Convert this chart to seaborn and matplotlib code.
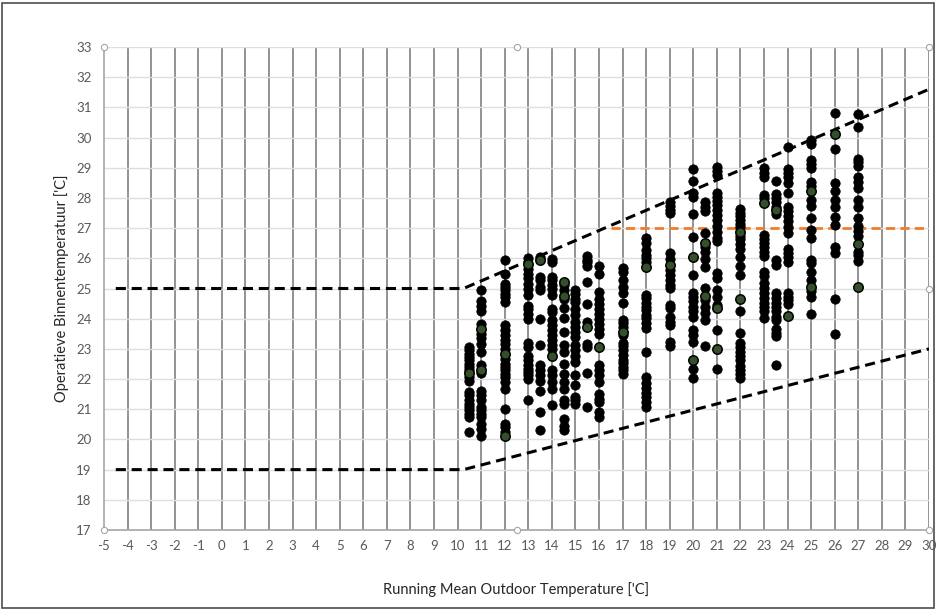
import matplotlib
matplotlib.use("Agg")
import matplotlib.pyplot as plt
import numpy as np
import pandas as pd
import seaborn as sns
from matplotlib.patches import Rectangle

# Indoor operative temperature readings, grouped by running mean outdoor temperature
t10_5 = [23.06, 22.95, 22.84, 22.73, 22.62, 22.51, 22.40, 22.29, 22.07, 21.93, 21.57, 21.46,
         21.29, 21.18, 21.07, 20.96, 20.85, 20.74, 20.24]
t11 = [24.94, 24.6, 24.42, 24.27, 23.83, 23.5, 23.36, 23.17, 22.89, 22.45, 22.21, 21.62, 21.48,
       21.29, 21.07, 20.96, 20.85, 20.74, 20.52, 20.36, 20.13]
t12 = [25.93, 25.49, 25.16, 25.05, 24.94, 24.83, 24.72, 24.55, 23.78, 23.61, 23.45, 23.31, 23.17,
       23.0, 22.67, 22.51, 22.4, 22.29, 22.18, 22.07, 21.9, 21.66, 21.02, 20.52, 20.41, 20.25]
t13 = [26.01, 25.65, 25.49, 25.34, 25.16, 24.99, 24.79, 24.42, 24.31, 24.16, 24.0, 23.2, 23.06,
       22.78, 22.62, 22.45, 22.34, 22.23, 22.12, 22.01, 21.29]
t13_5 = [26.04, 25.38, 25.27, 25.05, 24.94, 24.0, 23.12, 22.45, 22.29, 22.12, 21.92, 21.62, 20.9, 20.3]
t14 = [25.98, 25.87, 25.38, 25.27, 25.1, 24.97, 24.77, 24.33, 24.22, 23.94, 23.78, 23.61, 23.45,
       23.28, 23.14, 22.98, 22.29, 22.12, 21.9, 21.68, 21.13]
t14_5 = [25.1, 24.94, 24.66, 24.35, 24.02, 23.56, 23.12, 22.89, 22.49, 22.18, 21.9, 21.68, 21.29,
         21.18, 20.69, 20.46, 20.3]
t15 = [24.94, 24.83, 24.66, 24.55, 24.31, 24.11, 23.89, 23.72, 23.56, 23.39, 23.14, 22.95, 22.78,
       22.56, 22.12, 21.79, 21.4, 21.29, 21.18]
t15_5 = [26.07, 25.96, 25.87, 25.76, 25.21, 24.49, 23.89, 23.17, 23.06, 22.21, 21.07]
t16 = [25.76, 25.49, 24.88, 24.66, 24.49, 24.33, 24.16, 24.0, 23.83, 23.67, 23.5, 22.45, 22.29,
       22.12, 21.9, 21.51, 21.35, 21.24, 20.9, 20.74]
t17 = [25.67, 25.56, 25.28, 25.06, 24.84, 24.51, 23.96, 23.85, 23.74, 23.46, 23.19, 23.08, 22.97,
       22.80, 22.64, 22.53, 22.41, 22.30, 22.17]
t18 = [26.66, 26.5, 26.28, 26.11, 26.0, 25.89, 24.79, 24.68, 24.51, 24.4, 24.29, 24.13, 24.02,
       23.85, 23.69, 22.88, 22.08, 21.86, 21.70, 21.55, 21.42, 21.25, 21.09]
t19 = [27.88, 27.74, 27.6, 27.49, 26.19, 25.97, 25.62, 25.45, 25.28, 25.12, 25.01, 24.46, 24.34,
       24.07, 23.9, 23.79, 23.24, 23.09]
t20 = [28.95, 28.57, 28.18, 28.02, 27.47, 26.72, 25.45, 24.84, 24.73, 24.57, 24.4, 24.24, 24.07,
       23.63, 23.46, 23.24, 22.33, 22.03]
t20_5 = [27.85, 27.71, 27.58, 26.85, 26.39, 26.22, 25.97, 25.7, 25.01, 24.62, 24.4, 24.18, 23.94, 23.08]
t21 = [29.04, 28.9, 28.76, 28.18, 28.04, 27.91, 27.77, 27.6, 27.44, 27.27, 27.07, 26.88, 26.66,
       26.59, 25.51, 25.34, 24.95, 24.73, 24.46, 23.63, 22.33]
t22 = [27.63, 27.51, 27.4, 27.27, 27.14, 27.03, 26.74, 26.63, 26.48, 26.3, 26.06, 25.73, 25.45,
       24.24, 23.52, 23.19, 23.06, 22.91, 22.77, 22.64, 22.44, 22.3, 22.17, 22.03]
t23 = [28.98, 28.84, 28.71, 28.1, 27.99, 26.77, 26.63, 26.5, 26.37, 26.22, 26.08, 25.56, 25.42,
       25.18, 25.01, 24.84, 24.68, 24.53, 24.4, 24.27, 24.02]
t23_5 = [28.57, 28.13, 27.99, 27.85, 27.71, 27.47, 25.95, 25.78, 24.84, 24.68, 24.53, 24.4, 24.24,
         24.07, 23.96, 23.65, 23.52, 23.41, 22.47]
t24 = [29.7, 28.95, 28.82, 28.68, 28.48, 28.18, 27.71, 27.58, 27.4, 27.22, 27.03, 26.83, 26.3,
       26.16, 26.04, 25.89, 24.84, 24.73, 24.62, 24.49]
t25 = [29.92, 29.79, 29.26, 29.13, 28.98, 28.54, 28.4, 27.93, 27.74, 27.33, 26.94, 26.66, 25.95,
       25.84, 25.56, 25.28, 24.93, 24.73, 24.16]
t26 = [30.82, 29.61, 28.49, 28.24, 27.93, 27.69, 27.38, 27.11, 26.39, 26.19, 24.65, 23.5]
t27 = [30.78, 30.35, 29.29, 29.18, 29.06, 28.69, 28.54, 28.33, 27.92, 27.69, 27.33, 27.07, 26.91,
       26.73, 26.21, 26.1, 25.91]

# Second (green) series of readings
green_x = [10.5, 11, 11, 12, 12, 13, 13.5, 14, 14.5, 14.5, 15.5, 16, 17, 18, 19, 20, 20,
           20.5, 20.5, 21, 21, 22, 22, 23, 23.5, 24, 25, 25, 26, 27, 27]
green_y = [22.2, 23.67, 22.29, 22.84, 20.11, 25.82, 25.93, 22.78, 25.23, 24.75, 23.72, 23.06,
           23.57, 25.7, 25.78, 26.06, 22.64, 26.5, 24.76, 24.34, 22.99, 26.88, 24.65, 27.82,
           27.6, 24.09, 28.24, 25.06, 30.12, 26.48, 25.04]

# Comfort band limits and the 27 degree reference line
upper_x = [-4.5, 10.25, 30]
upper_y = [25, 25, 31.6]
lower_x = [-4.5, 10.25, 30]
lower_y = [19, 19, 23.0]
ref_x = [16.5, 30]
ref_y = [27, 27]

x_ticks = list(range(-5, 31))
y_ticks = list(range(17, 34))

columns = [(10.5, t10_5), (11, t11), (12, t12), (13, t13), (13.5, t13_5), (14, t14),
           (14.5, t14_5), (15, t15), (15.5, t15_5), (16, t16), (17, t17), (18, t18),
           (19, t19), (20, t20), (20.5, t20_5), (21, t21), (22, t22), (23, t23),
           (23.5, t23_5), (24, t24), (25, t25), (26, t26), (27, t27)]
black_df = pd.DataFrame([(x, y) for x, ys in columns for y in ys], columns=["outdoor", "indoor"])
green_df = pd.DataFrame({"outdoor": green_x, "indoor": green_y})

sns.set_theme(style="white")
plt.rcParams["font.family"] = ["Lato", "DejaVu Sans"]

fig = plt.figure(figsize=(9.36, 6.12), dpi=100)
ax = fig.add_axes([104 / 936, 1 - 530 / 612, 825 / 936, 483 / 612])

# grid: strong vertical lines, faint horizontal lines
for xv in x_ticks[1:]:
    ax.axvline(xv, color="#8a8a8a", lw=1.3, zorder=0)
for yv in y_ticks[1:]:
    ax.axhline(yv, color="#dedede", lw=1.0, zorder=0)

dash = (3.3, 1.9)
ax.plot(upper_x, upper_y, color="black", lw=2.2, dashes=dash, zorder=2)
ax.plot(lower_x, lower_y, color="black", lw=2.2, dashes=dash, zorder=2)
ax.plot(ref_x, ref_y, color="#ED7D31", lw=2.0, dashes=dash, zorder=2)

sns.scatterplot(data=black_df, x="outdoor", y="indoor", ax=ax, color="black",
                edgecolor="black", s=46, linewidth=0.5, zorder=3, legend=False)
sns.scatterplot(data=green_df, x="outdoor", y="indoor", ax=ax, color="#34502a",
                edgecolor="black", s=46, linewidth=1.1, zorder=4, legend=False)

ax.set_xlim(-5, 30)
ax.set_ylim(17, 33)
ax.set_xticks(x_ticks)
ax.set_yticks(y_ticks)
ax.set_xticklabels([str(v) for v in x_ticks])
ax.set_yticklabels([str(v) for v in y_ticks])
ax.tick_params(axis="both", length=0, labelsize=9.5, colors="#595959")
ax.tick_params(axis="x", pad=7)
ax.tick_params(axis="y", pad=9)

for side in ["top", "right"]:
    ax.spines[side].set_visible(False)
for side in ["left", "bottom"]:
    ax.spines[side].set_color("#a6a6a6")
    ax.spines[side].set_linewidth(1.2)

ax.set_xlabel("Running Mean Outdoor Temperature ['C]", fontsize=10.5, color="#262626")
ax.set_ylabel("Operatieve Binnentemperatuur ['C]", fontsize=10.5, color="#262626")
ax.xaxis.set_label_coords(0.5, -0.124)
ax.xaxis.label.set_va("center")
ax.yaxis.set_label_coords(-0.051, 0.5)
ax.yaxis.label.set_va("center")

# selection handles on the plot area frame
hx = [0, 0.5, 1, 0, 0.5, 1, 1]
hy = [1, 1, 1, 0, 0, 0, 0.5]
ax.plot(hx, hy, ls="none", marker="o", ms=4.5, mfc="white", mec="#a6a6a6", mew=0.8,
        transform=ax.transAxes, clip_on=False, zorder=5)

fig.patches.append(Rectangle((2 / 936, 4 / 612), 932 / 936, 605 / 612, transform=fig.transFigure,
                             fill=False, edgecolor="#4d4d4d", lw=1.2))

fig.savefig("out.png", dpi=100)
